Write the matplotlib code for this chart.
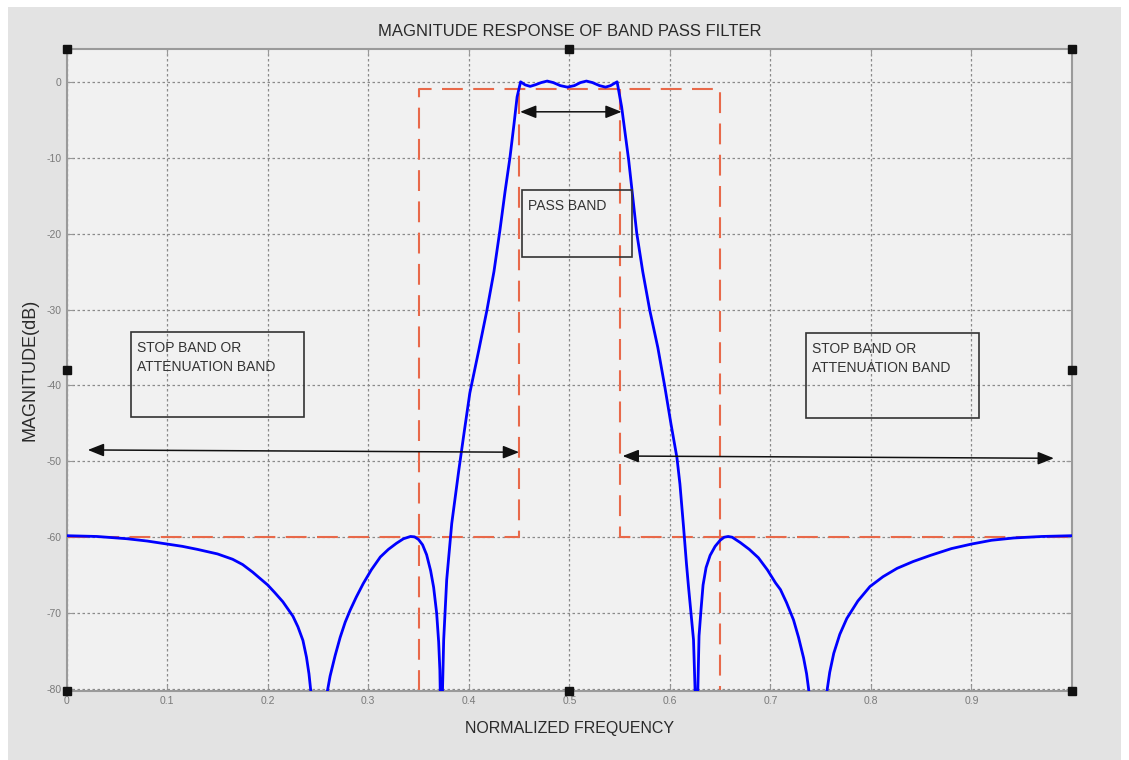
import matplotlib
matplotlib.use("Agg")
import matplotlib.pyplot as plt
from matplotlib.patches import Rectangle

plt.rcParams['font.family'] = ['Liberation Sans', 'DejaVu Sans']
plt.rcParams['axes.unicode_minus'] = False

# magnitude response (normalized freq, dB)
freq = [0.000, 0.030, 0.060, 0.080, 0.100, 0.115, 0.130, 0.150, 0.165, 0.175,
        0.185, 0.200, 0.207, 0.215, 0.225, 0.230, 0.235, 0.2385, 0.241, 0.243,
        0.251, 0.259, 0.262, 0.267, 0.272, 0.277, 0.282, 0.288, 0.295, 0.303,
        0.312, 0.320, 0.328, 0.335, 0.342, 0.346, 0.350, 0.354, 0.358, 0.362,
        0.365, 0.368, 0.370, 0.3712, 0.3718, 0.3725, 0.3735, 0.375, 0.378, 0.383,
        0.390, 0.395, 0.401, 0.410, 0.418, 0.425, 0.431, 0.436, 0.441, 0.445,
        0.448, 0.4515, 0.456, 0.461, 0.466, 0.472, 0.478, 0.484, 0.491, 0.498,
        0.505, 0.511, 0.517, 0.523, 0.530, 0.536, 0.541, 0.5475, 0.552, 0.559,
        0.567, 0.573, 0.580, 0.588, 0.595, 0.601, 0.607, 0.610, 0.6135, 0.6165,
        0.6185, 0.621, 0.6235, 0.6255, 0.6265, 0.6275, 0.629, 0.631, 0.633, 0.636,
        0.640, 0.645, 0.650, 0.654, 0.658, 0.662, 0.670, 0.679, 0.688, 0.697,
        0.705, 0.710, 0.716, 0.723, 0.728, 0.733, 0.736, 0.7385, 0.747, 0.756,
        0.759, 0.763, 0.769, 0.776, 0.787, 0.799, 0.812, 0.826, 0.842, 0.859,
        0.880, 0.900, 0.920, 0.942, 0.970, 1.000]
mag_db = [-59.8, -59.9, -60.2, -60.5, -60.9, -61.2, -61.6, -62.2, -62.9, -63.6,
          -64.6, -66.3, -67.3, -68.5, -70.4, -71.8, -73.6, -75.8, -78.0, -80.5,
          -100.0, -80.5, -78.3, -75.6, -73.2, -71.2, -69.6, -67.9, -66.1, -64.3,
          -62.6, -61.6, -60.8, -60.2, -59.9, -59.95, -60.3, -61.0, -62.3, -64.4,
          -66.6, -70.0, -73.8, -77.5, -82.0, -100.0, -82.0, -73.5, -65.6, -58.2,
          -51.2, -46.5, -41.0, -35.3, -30.1, -25.0, -19.5, -14.5, -9.9, -5.5,
          -2.0, 0.0, -0.4, -0.6, -0.4, -0.1, 0.1, -0.1, -0.5, -0.7,
          -0.5, -0.1, 0.1, -0.1, -0.5, -0.7, -0.5, 0.0, -3.3, -10.3,
          -19.9, -25.0, -30.1, -35.0, -40.2, -45.0, -49.5, -53.0, -58.5, -63.5,
          -66.5, -70.0, -73.5, -82.0, -100.0, -82.0, -73.0, -69.5, -66.3, -64.0,
          -62.4, -61.2, -60.4, -60.0, -59.9, -60.0, -60.7, -61.6, -62.7, -64.3,
          -66.0, -66.9, -68.6, -70.9, -73.2, -75.9, -78.0, -80.5, -100.0, -80.5,
          -77.8, -75.3, -72.8, -70.7, -68.4, -66.5, -65.2, -64.1, -63.2, -62.4,
          -61.5, -60.9, -60.4, -60.1, -59.9, -59.8]

# specification mask (dashed red)
mask_stop1_x = [0.0, 0.45, 0.45]
mask_stop1_y = [-60, -60, -1]
mask_pass_x = [0.35, 0.35, 0.65, 0.65]
mask_pass_y = [-80.2, -1, -1, -80.2]
mask_stop2_x = [0.55, 0.55, 1.0]
mask_stop2_y = [-1, -60, -60]

xticks = [0, 0.1, 0.2, 0.3, 0.4, 0.5, 0.6, 0.7, 0.8, 0.9, 1.0]
xtick_labels = ['0', '0.1', '0.2', '0.3', '0.4', '0.5', '0.6', '0.7', '0.8', '0.9', '']
yticks = [0, -10, -20, -30, -40, -50, -60, -70, -80]

fig = plt.figure(figsize=(11.29, 7.60), dpi=100)
fig.patch.set_facecolor('white')
fig.patches.append(Rectangle((8 / 1129, 0), 1113 / 1129, 753 / 760,
                             transform=fig.transFigure, facecolor='#e3e3e3',
                             edgecolor='none', zorder=-10))

ax = fig.add_axes([66.7 / 1129, 1 - 690.7 / 760, (1072 - 66.7) / 1129, (690.7 - 48.5) / 760])
ax.set_facecolor('#f1f1f1')
ax.set_xlim(0, 1)
ax.set_ylim(-80.22, 4.39)

for mx, my in [(mask_stop1_x, mask_stop1_y), (mask_pass_x, mask_pass_y),
               (mask_stop2_x, mask_stop2_y)]:
    ax.plot(mx, my, color='#e8694a', lw=1.5, dashes=(10, 5), zorder=2)
ax.plot(freq, mag_db, color='#0000ff', lw=2, zorder=3)

ax.set_xticks(xticks)
ax.set_xticklabels(xtick_labels)
ax.set_yticks(yticks)
ax.tick_params(direction='in', length=4, colors='#999999', labelcolor='#7a7a7a',
               labelsize=7.5, top=True, right=True)
ax.grid(True, color='#8a8a8a', linestyle=(0, (2, 2)), lw=0.9)
for s in ax.spines.values():
    s.set_color('#9a9a9a')
    s.set_linewidth(1.5)

ax.set_title('MAGNITUDE RESPONSE OF BAND PASS FILTER', fontsize=12, color='#2a2a2a', pad=9)
ax.set_xlabel('NORMALIZED FREQUENCY', fontsize=11.5, color='#2a2a2a', labelpad=11)
ax.set_ylabel('MAGNITUDE(dB)', fontsize=13, color='#2a2a2a', labelpad=6)

# annotation boxes
boxes = [(0.453, -23.1, 0.1095, 8.85, 'PASS BAND'),
         (0.064, -44.2, 0.172, 11.24, 'STOP BAND OR\nATTENUATION BAND'),
         (0.735, -44.3, 0.172, 11.2, 'STOP BAND OR\nATTENUATION BAND')]
for bx, by, bw, bh, txt in boxes:
    ax.add_patch(Rectangle((bx, by), bw, bh, fill=False, edgecolor='#333333', lw=1.2, zorder=4))
    ax.text(bx + 0.006, by + bh - 1.2, txt, fontsize=10, color='#333333', va='top', ha='left',
            linespacing=1.45, zorder=5)

arrows = [((0.451, -3.95), (0.552, -3.95)),
          ((0.021, -48.5), (0.450, -48.8)),
          ((0.553, -49.3), (0.982, -49.6))]
for (x0, y0), (x1, y1) in arrows:
    ax.annotate('', xy=(x1, y1), xytext=(x0, y0),
                arrowprops=dict(arrowstyle='<|-|>,head_length=0.75,head_width=0.3',
                                color='#111111', lw=1.1, mutation_scale=13,
                                shrinkA=0, shrinkB=0), zorder=6)

# selection handles
hx = [0, 0.5, 1, 0, 1, 0, 0.5, 1]
hy = [1, 1, 1, 0.5, 0.5, 0, 0, 0]
ax.plot(hx, hy, 's', ms=6, color='#111111', transform=ax.transAxes, clip_on=False, zorder=10)

fig.savefig('out.png', dpi=100, facecolor=fig.get_facecolor())
